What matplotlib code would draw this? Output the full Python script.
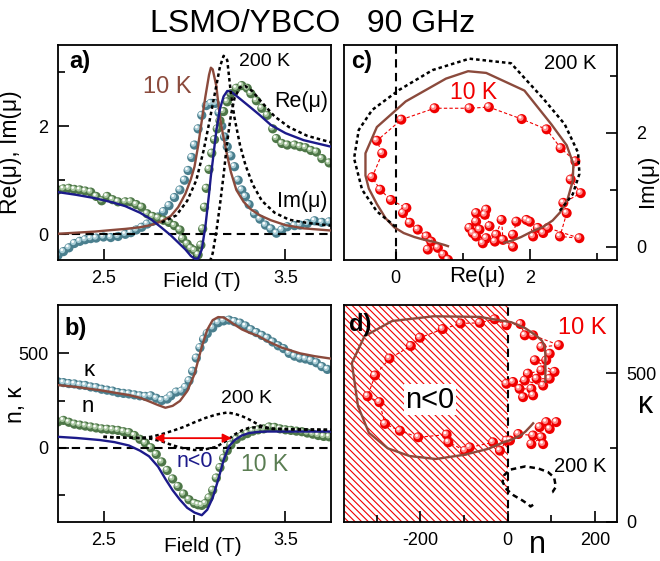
import numpy as np
import matplotlib
matplotlib.use('Agg')
import matplotlib.pyplot as plt
from matplotlib.transforms import offset_copy

plt.rcParams['font.family'] = ['Liberation Sans', 'DejaVu Sans']
plt.rcParams['axes.unicode_minus'] = False
plt.rcParams['hatch.linewidth'] = 0.8

# --- panel a: 10 K data (field, value) ---
re_pts = [(2.25, 0.82), (2.28, 0.84), (2.31, 0.85), (2.34, 0.83), (2.37, 0.82), (2.40, 0.80),
          (2.43, 0.78), (2.46, 0.70), (2.49, 0.62), (2.52, 0.70), (2.55, 0.64), (2.58, 0.60),
          (2.62, 0.60), (2.65, 0.60), (2.68, 0.55), (2.71, 0.50), (2.74, 0.38), (2.77, 0.33),
          (2.80, 0.30), (2.83, 0.26), (2.86, 0.22), (2.89, 0.16), (2.92, 0.08), (2.935, -0.08),
          (2.96, -0.18), (2.98, -0.26), (3.00, -0.30), (3.02, -0.38), (3.035, -0.20), (3.045, 0.10),
          (3.055, 0.50), (3.065, 0.85), (3.08, 1.20), (3.095, 1.50), (3.11, 1.75), (3.125, 1.95),
          (3.14, 2.10), (3.16, 2.27), (3.18, 2.45), (3.20, 2.60), (3.23, 2.70), (3.26, 2.75),
          (3.29, 2.70), (3.31, 2.60), (3.34, 2.47), (3.37, 2.33), (3.40, 2.20), (3.43, 1.95),
          (3.45, 1.77), (3.48, 1.68), (3.51, 1.65), (3.55, 1.65), (3.58, 1.62), (3.61, 1.60),
          (3.64, 1.55), (3.67, 1.52), (3.70, 1.40), (3.74, 1.32)]
im_pts = [(2.25, -0.39), (2.28, -0.32), (2.31, -0.25), (2.34, -0.17), (2.37, -0.13), (2.40, -0.10),
          (2.43, -0.08), (2.46, -0.07), (2.50, -0.05), (2.54, -0.06), (2.58, -0.04), (2.62, 0.00),
          (2.65, 0.03), (2.68, 0.08), (2.71, 0.13), (2.74, 0.19), (2.77, 0.24), (2.80, 0.32),
          (2.83, 0.42), (2.86, 0.53), (2.89, 0.68), (2.92, 0.82), (2.945, 1.00), (2.965, 1.18),
          (2.985, 1.42), (3.00, 1.65), (3.02, 1.95), (3.04, 2.20), (3.065, 2.38), (3.09, 2.42),
          (3.115, 2.42), (3.135, 2.25), (3.15, 2.00), (3.165, 1.80), (3.18, 1.62), (3.20, 1.45),
          (3.22, 1.25), (3.24, 1.00), (3.26, 0.82), (3.28, 0.70), (3.30, 0.55), (3.33, 0.38),
          (3.36, 0.28), (3.39, 0.17), (3.42, 0.10), (3.45, 0.02), (3.48, 0.08), (3.51, 0.14),
          (3.55, 0.16), (3.58, 0.17), (3.62, 0.20), (3.66, 0.25), (3.70, 0.22), (3.74, 0.23)]

# fits (10 K) on one field grid
fit_field = [2.25, 2.35, 2.45, 2.55, 2.62, 2.70, 2.76, 2.82, 2.87, 2.91, 2.95, 2.98, 3.00, 3.02,
             3.04, 3.06, 3.08, 3.09, 3.10, 3.12, 3.14, 3.16, 3.18, 3.20, 3.23, 3.27, 3.31, 3.36,
             3.42, 3.50, 3.60, 3.75]
fit_im = [0.01, 0.03, 0.05, 0.08, 0.10, 0.13, 0.17, 0.24, 0.34, 0.50, 0.75, 1.02, 1.25, 1.64,
          2.10, 2.55, 2.95, 3.08, 3.05, 2.74, 2.15, 1.78, 1.45, 1.15, 0.82, 0.60, 0.46, 0.35,
          0.26, 0.17, 0.11, 0.07]
fit_re = [0.78, 0.73, 0.67, 0.59, 0.52, 0.40, 0.28, 0.12, -0.02, -0.15, -0.28, -0.40, -0.45, -0.45,
          -0.28, 0.15, 0.75, 1.08, 1.35, 1.92, 2.32, 2.55, 2.65, 2.64, 2.56, 2.45, 2.34, 2.20,
          2.02, 1.87, 1.74, 1.62]

# 200 K
f200 = [2.25, 2.45, 2.60, 2.72, 2.82, 2.90, 2.96, 3.01, 3.05, 3.08, 3.10, 3.12, 3.14, 3.16,
        3.18, 3.20, 3.22, 3.25, 3.28, 3.32, 3.37, 3.44, 3.52, 3.62, 3.75]
im200 = [0.02, 0.04, 0.08, 0.14, 0.22, 0.35, 0.62, 1.00, 1.55, 2.05, 2.40, 2.75, 3.10, 3.30,
         3.22, 2.60, 2.15, 1.65, 1.28, 0.92, 0.62, 0.40, 0.27, 0.21, 0.16]
re200 = [0.75, 0.66, 0.57, 0.46, 0.32, 0.00, -0.28, -0.50, -0.62, -0.55, -0.35, 0.05, 0.55, 1.10,
         1.72, 2.20, 2.52, 2.72, 2.74, 2.64, 2.44, 2.18, 1.98, 1.82, 1.70]

# --- panel b: 10 K data ---
kappa_pts = [(2.25, 349), (2.28, 345), (2.31, 340), (2.34, 338), (2.37, 332), (2.40, 330),
             (2.43, 322), (2.46, 318), (2.49, 310), (2.52, 305), (2.55, 300), (2.58, 292),
             (2.61, 288), (2.64, 285), (2.67, 280), (2.70, 275), (2.73, 272), (2.76, 275),
             (2.79, 262), (2.82, 250), (2.85, 258), (2.87, 275), (2.90, 295), (2.93, 300),
             (2.95, 320), (2.97, 355), (2.99, 405), (3.01, 475), (3.03, 530), (3.05, 575),
             (3.07, 605), (3.10, 635), (3.13, 662), (3.16, 672), (3.19, 676), (3.22, 668),
             (3.25, 660), (3.28, 645), (3.31, 625), (3.34, 610), (3.37, 595), (3.40, 580),
             (3.43, 560), (3.46, 540), (3.49, 525), (3.52, 500), (3.55, 485), (3.58, 475),
             (3.61, 470), (3.64, 462), (3.67, 450), (3.70, 430), (3.73, 415)]
n_pts = [(2.25, 137), (2.28, 145), (2.31, 135), (2.34, 125), (2.37, 120), (2.40, 115),
         (2.43, 110), (2.46, 105), (2.49, 100), (2.52, 98), (2.55, 95), (2.58, 92),
         (2.61, 85), (2.64, 80), (2.67, 65), (2.70, 45), (2.73, 25), (2.76, 0),
         (2.79, -35), (2.82, -75), (2.85, -120), (2.88, -165), (2.91, -205), (2.94, -245),
         (2.97, -275), (3.00, -295), (3.02, -302), (3.04, -305), (3.06, -295), (3.08, -265),
         (3.10, -225), (3.12, -160), (3.14, -105), (3.16, -55), (3.18, -15), (3.20, 15),
         (3.23, 45), (3.26, 62), (3.29, 75), (3.32, 88), (3.35, 95), (3.38, 100),
         (3.41, 110), (3.44, 108), (3.47, 100), (3.50, 95), (3.53, 92), (3.56, 88),
         (3.59, 85), (3.62, 78), (3.65, 72), (3.68, 65), (3.71, 60), (3.74, 58)]

fitb_field = [2.25, 2.35, 2.48, 2.56, 2.64, 2.70, 2.75, 2.80, 2.84, 2.88, 2.92, 2.96, 3.00, 3.04,
              3.07, 3.10, 3.13, 3.16, 3.19, 3.22, 3.26, 3.30, 3.35, 3.40, 3.48, 3.58, 3.66, 3.75]
fit_kappa = [332, 322, 305, 292, 279, 265, 246, 226, 212, 222, 248, 300, 390, 535,
             625, 676, 692, 690, 672, 652, 627, 610, 592, 565, 530, 500, 485, 472]
fit_n = [58, 52, 41, 30, 12, -15, -45, -100, -165, -225, -275, -318, -343, -357,
         -328, -265, -170, -65, 8, 40, 65, 78, 84, 86, 86, 86, 86, 86]

f200b = [2.50, 2.60, 2.70, 2.76, 2.82, 2.88, 2.94, 3.00, 3.06, 3.12, 3.18, 3.22, 3.26, 3.30,
         3.36, 3.42, 3.55, 3.75]
kappa200 = [58, 54, 52, 58, 72, 90, 110, 135, 158, 176, 187, 180, 168, 150, 118, 100, 98, 95]
n200 = [58, 54, 52, 48, 34, 13, -3, -12, -8, 5, 40, 70, 92, 106, 110, 102, 97, 95]

# --- panel c: 10 K points in the complex plane (Re, Im) ---
c_pts = [(0.78, -0.23), (0.71, -0.14), (0.63, -0.02), (0.48, -0.05), (0.53, 0.09), (0.46, 0.18),
         (0.33, 0.30), (0.21, 0.42), (0.11, 0.59), (0.16, 0.68), (-0.07, 0.82), (-0.23, 1.00),
         (-0.35, 1.22), (-0.20, 1.64), (-0.28, 1.86), (0.085, 2.23), (0.58, 2.43), (1.10, 2.43),
         (1.39, 2.45), (1.88, 2.24), (2.25, 2.06), (2.46, 1.73), (2.68, 1.50), (2.61, 1.18),
         (2.76, 0.94), (2.50, 0.77), (2.55, 0.59), (2.45, 0.18), (2.74, 0.15), (2.27, 0.33),
         (2.20, 0.24), (2.12, 0.33), (2.05, 0.18), (2.00, 0.44), (1.95, 0.47), (1.80, 0.44),
         (1.75, 0.21), (1.75, 0.00), (1.60, 0.12), (1.58, 0.47), (1.50, 0.21), (1.40, 0.36),
         (1.35, 0.65), (1.33, 0.56), (1.20, 0.59), (1.20, 0.44), (1.10, 0.33), (1.25, 0.30),
         (1.15, 0.24), (1.20, 0.18), (1.35, 0.15), (1.48, 0.09), (1.30, 0.06)]

# --- panel d: 10 K points (n, kappa) ---
d_pts = [(111, 336), (88, 336), (96, 313), (73, 319), (81, 262), (77, 285), (54, 262), (58, 291),
         (24, 296), (5, 274), (-3, 274), (-18, 240), (-34, 268), (-87, 251), (-98, 240),
         (-136, 268), (-140, 294), (-205, 285), (-247, 307), (-281, 330), (-294, 403),
         (-321, 423), (-304, 493), (-271, 550), (-222, 592), (-201, 620), (-149, 649),
         (-108, 668), (-64, 670), (-30, 682), (-3, 662), (29, 666), (39, 628), (58, 628),
         (117, 595), (77, 589), (96, 566), (88, 544), (62, 544), (107, 505), (77, 510),
         (46, 499), (66, 482), (96, 482), (81, 459), (39, 476), (12, 471), (-3, 465),
         (27, 448), (54, 448), (58, 426), (35, 420)]

brown = '#8b4a3c'
navy = '#1c1a8a'
green = '#4e7748'
teal = '#4a7f8e'
red = '#f00000'
dots = (0, (1.4, 1.2))
zero = (0, (4, 2.6))

fig = plt.figure(figsize=(6.6, 5.61), dpi=100)
ax_a = fig.add_axes([58/660, 1-260/561, 273/660, 215/561])
ax_c = fig.add_axes([344/660, 1-260/561, 273/660, 215/561])
ax_b = fig.add_axes([58/660, 1-522/561, 273/660, 217/561])
ax_d = fig.add_axes([344/660, 1-522/561, 273/660, 217/561])


def balls(ax, pts, base, light, s=44):
    x = [p[0] for p in pts]
    y = [p[1] for p in pts]
    ax.scatter(x, y, s=s, color=base, edgecolors='none', zorder=2)
    hi = offset_copy(ax.transData, fig=fig, x=-0.8, y=0.8, units='points')
    ax.scatter(x, y, s=s*0.35, color=light, edgecolors='none', zorder=2, transform=hi)
    hi2 = offset_copy(ax.transData, fig=fig, x=-1.2, y=1.3, units='points')
    ax.scatter(x, y, s=s*0.08, color='white', edgecolors='none', zorder=2, transform=hi2)


def style(ax, side='left'):
    for sp in ax.spines.values():
        sp.set_linewidth(1.3)
    ax.tick_params(which='both', direction='in', top=False, width=1.2, labelsize=13,
                   left=(side == 'left'), right=(side == 'right'),
                   labelleft=(side == 'left'), labelright=(side == 'right'))
    ax.tick_params(which='major', length=8, pad=7)
    ax.tick_params(which='minor', length=5)


# a)
ax = ax_a
balls(ax, im_pts, teal, '#a9cdd6')
balls(ax, re_pts, green, '#a8c6a0')
ax.axhline(0, color='k', ls=zero, lw=1.5, zorder=2.5)
ax.plot(fit_field, fit_im, color=brown, lw=1.7, zorder=3)
ax.plot(fit_field, fit_re, color=navy, lw=1.7, zorder=3)
f200_arr = np.array(f200)
ax.plot(f200_arr[4:], np.array(im200)[4:], color='k', ls=dots, lw=1.8, zorder=3)
ax.plot(f200_arr[7:], np.array(re200)[7:], color='k', ls=dots, lw=1.8, zorder=3)
ax.set_xlim(2.25, 3.75)
ax.set_ylim(-0.475, 3.5)
ax.set_xticks([2.5, 3.5])
ax.set_xticks([3.0], minor=True)
ax.set_yticks([0, 2])
ax.set_yticks([1, 3], minor=True)
style(ax)
ax.set_ylabel('Re(μ), Im(μ)', fontsize=16.5)
ax.yaxis.set_label_coords(-0.132, 0.5)
ax.text(0.527, -0.102, 'Field (T)', transform=ax.transAxes, fontsize=15, ha='center', va='center')
ax.text(0.081, 0.921, 'a)', transform=ax.transAxes, fontsize=17, fontweight='bold', ha='center', va='center')
ax.text(0.399, 0.805, '10 K', transform=ax.transAxes, fontsize=17, color=brown, ha='center', va='center')
ax.text(0.755, 0.921, '200 K', transform=ax.transAxes, fontsize=14, ha='center', va='center')
ax.text(0.890, 0.735, 'Re(μ)', transform=ax.transAxes, fontsize=15.5, ha='center', va='center')
ax.text(0.894, 0.274, 'Im(μ)', transform=ax.transAxes, fontsize=15.5, ha='center', va='center')

# b)
ax = ax_b
balls(ax, kappa_pts, teal, '#a9cdd6')
balls(ax, n_pts, green, '#a8c6a0')
ax.axhline(0, color='k', ls=zero, lw=1.5, zorder=2.5)
ax.plot(fitb_field, fit_kappa, color=brown, lw=1.7, zorder=3)
ax.plot(fitb_field, fit_n, color=navy, lw=1.7, zorder=3)
ax.plot(f200b, kappa200, color='k', ls=dots, lw=1.8, zorder=3)
ax.plot(f200b, n200, color='k', ls=dots, lw=1.8, zorder=3)
ax.annotate('', xy=(3.22, 51), xytext=(2.764, 51),
            arrowprops=dict(arrowstyle='<|-|>', color=red, lw=1.3, mutation_scale=13), zorder=4)
ax.set_xlim(2.25, 3.75)
ax.set_ylim(-393, 756)
ax.set_xticks([2.5, 3.5])
ax.set_xticks([3.0], minor=True)
ax.set_yticks([0, 500])
ax.set_yticks([-250, 250], minor=True)
style(ax)
ax.set_ylabel('n, κ', fontsize=16.5)
ax.yaxis.set_label_coords(-0.114, 0.54)
ax.text(0.531, -0.115, 'Field (T)', transform=ax.transAxes, fontsize=15, ha='center', va='center')
ax.text(0.066, 0.894, 'b)', transform=ax.transAxes, fontsize=17, fontweight='bold', ha='center', va='center')
ax.text(0.114, 0.696, 'κ', transform=ax.transAxes, fontsize=16, ha='center', va='center')
ax.text(0.110, 0.530, 'n', transform=ax.transAxes, fontsize=16, ha='center', va='center')
ax.text(0.692, 0.567, '200 K', transform=ax.transAxes, fontsize=14, ha='center', va='center')
ax.text(0.502, 0.281, 'n<0', transform=ax.transAxes, fontsize=15.5, color=navy, ha='center', va='center')
ax.text(0.758, 0.267, '10 K', transform=ax.transAxes, fontsize=16.5, color='#5a7d52', ha='center', va='center')

# c)
ax = ax_c
cx = [p[0] for p in c_pts]
cy = [p[1] for p in c_pts]
ax.plot(cx, cy, color=red, ls=(0, (3, 2)), lw=0.8, zorder=1.5)
balls(ax, c_pts, red, '#ff8c8c', s=52)
ax.axvline(0, color='k', ls=zero, lw=1.5, zorder=1)
ax.plot(fit_re, fit_im, color=brown, lw=1.7, zorder=3)
sel = (f200_arr >= 2.90) & (f200_arr <= 3.37)
ax.plot(np.array(re200)[sel], np.array(im200)[sel], color='k', ls=dots, lw=1.8, zorder=3)
ax.set_xlim(-0.77, 3.30)
ax.set_ylim(-0.233, 3.54)
ax.set_xticks([0, 2])
ax.set_xticks([1, 3], minor=True)
ax.set_yticks([0, 2])
ax.set_yticks([1, 3], minor=True)
style(ax, 'right')
ax.tick_params(axis='y', which='major', pad=14)
ax.text(0.487, -0.079, 'Re(μ)', transform=ax.transAxes, fontsize=16, ha='center', va='center')
ax.text(1.113, 0.367, 'Im(μ)', transform=ax.transAxes, fontsize=16, rotation=90, ha='center', va='center')
ax.text(0.066, 0.921, 'c)', transform=ax.transAxes, fontsize=17, fontweight='bold', ha='center', va='center')
ax.text(0.828, 0.912, '200 K', transform=ax.transAxes, fontsize=14.5, ha='center', va='center')
ax.text(0.473, 0.781, '10 K', transform=ax.transAxes, fontsize=16.5, color=red, ha='center', va='center')

# d)
ax = ax_d
ax.axvspan(-375, 0, facecolor='none', edgecolor=red, hatch='\\\\\\\\\\', lw=0, zorder=0)
dx = [p[0] for p in d_pts]
dy = [p[1] for p in d_pts]
ax.plot(dx, dy, color=red, ls=(0, (3, 2)), lw=0.8, zorder=1.5)
balls(ax, d_pts, red, '#ff8c8c', s=52)
ax.axvline(0, color='k', ls=zero, lw=1.5, zorder=1)
ax.plot(fit_n, fit_kappa, color=brown, lw=1.7, zorder=3)
ax.plot(n200, kappa200, color='k', ls=(0, (2.2, 1.6)), lw=1.8, zorder=3)
ax.set_xlim(-375, 250)
ax.set_ylim(0, 730)
ax.set_xticks([-200, 0, 200])
ax.set_xticks([-300, -100, 100], minor=True)
ax.set_yticks([0, 500])
ax.set_yticks([250], minor=True)
style(ax, 'right')
ax.text(0.315, 0.564, 'n<0', transform=ax.transAxes, fontsize=21, ha='center', va='center',
        bbox=dict(facecolor='white', edgecolor='none', pad=1))
ax.text(1.103, 0.539, 'κ', transform=ax.transAxes, fontsize=22, ha='center', va='center')
ax.text(0.707, -0.177, 'n', transform=ax.transAxes, fontsize=22, ha='center', va='bottom')
ax.text(0.059, 0.908, 'd)', transform=ax.transAxes, fontsize=17, fontweight='bold', ha='center', va='center')
ax.text(0.872, 0.894, '10 K', transform=ax.transAxes, fontsize=17, color=red, ha='center', va='center')
ax.text(0.864, 0.258, '200 K', transform=ax.transAxes, fontsize=14.5, ha='center', va='center')

fig.text(475/660, 1-32/561, 'LSMO/YBCO   90 GHz', fontsize=23, ha='right', va='baseline')

fig.savefig('out.png', dpi=100)
